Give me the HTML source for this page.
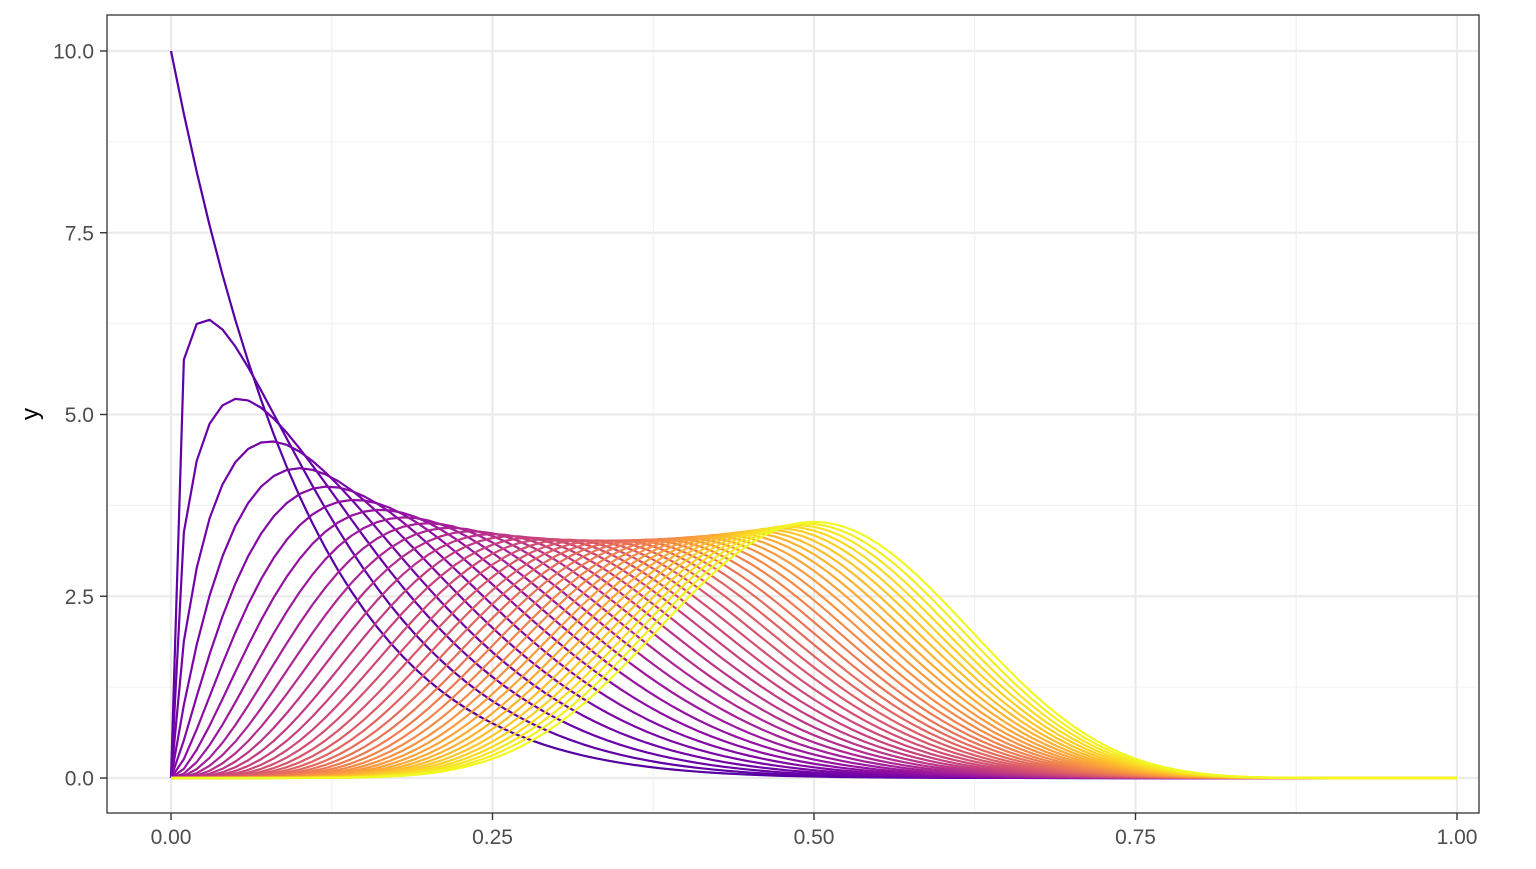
<!DOCTYPE html>
<html><head><meta charset="utf-8"><style>
body{margin:0;background:#fff;}
svg text{font-family:"Liberation Sans",sans-serif;}
</style></head><body>
<svg id="chart" width="1536" height="864" xmlns="http://www.w3.org/2000/svg"></svg>
<script>
const shapeA = [];
for (let i = 0; i <= 36; i++) shapeA.push(1 + i * 0.25);
const shapeB = 10;
const xTicks = [0, 0.25, 0.5, 0.75, 1];
const xTickLabels = ["0.00", "0.25", "0.50", "0.75", "1.00"];
const yTicks = [0, 2.5, 5, 7.5, 10];
const yTickLabels = ["0.0", "2.5", "5.0", "7.5", "10.0"];

const NS = "http://www.w3.org/2000/svg";
const svg = document.getElementById("chart");
const X = v => 171 + v * (1457 - 171);
const Y = v => 778 - v * (778 - 51) / 10;
function mk(tag, attrs, parent) {
  const e = document.createElementNS(NS, tag);
  for (const k in attrs) e.setAttribute(k, attrs[k]);
  (parent || svg).appendChild(e);
  return e;
}
function lgamma(z) {
  const g = 7, c = [0.99999999999980993, 676.5203681218851, -1259.1392167224028, 771.32342877765313,
    -176.61502916214059, 12.507343278686905, -0.13857109526572012, 9.9843695780195716e-6, 1.5056327351493116e-7];
  if (z < 0.5) return Math.log(Math.PI / Math.sin(Math.PI * z)) - lgamma(1 - z);
  z -= 1; let x = c[0];
  for (let i = 1; i < g + 2; i++) x += c[i] / (z + i);
  const t = z + g + 0.5;
  return 0.5 * Math.log(2 * Math.PI) + (z + 0.5) * Math.log(t) - t + Math.log(x);
}
function dbeta(x, a, b) {
  if (x <= 0) return a === 1 ? b : 0;
  if (x >= 1) return 0;
  return Math.exp((a - 1) * Math.log(x) + (b - 1) * Math.log(1 - x) - (lgamma(a) + lgamma(b) - lgamma(a + b)));
}
const stops = ["#0d0887","#41049d","#6a00a8","#8f0da4","#b12a90","#cc4778","#e16462","#f2844b","#fca636","#fcce25","#f0f921"];
function plasma(t) {
  const p = t * 10, i = Math.min(9, Math.floor(p)), f = p - i;
  const h = s => [1,3,5].map(k => parseInt(s.substr(k,2),16));
  const a = h(stops[i]), b = h(stops[i+1]);
  return "rgb(" + a.map((v,k) => Math.round(v + (b[k]-v)*f)).join(",") + ")";
}

const panel = mk("rect", {x:107, y:15, width:1372, height:798, fill:"#fff"});


const grid = mk("g", {});


for (let i = 0; i < xTicks.length - 1; i++) {
  const m = (xTicks[i] + xTicks[i+1]) / 2;
  mk("line", {x1:X(m), x2:X(m), y1:15, y2:813, stroke:"#f0f0f0", "stroke-width":1.1}, grid);
}
for (let i = 0; i < yTicks.length - 1; i++) {
  const m = (yTicks[i] + yTicks[i+1]) / 2;
  mk("line", {x1:107, x2:1479, y1:Y(m), y2:Y(m), stroke:"#f0f0f0", "stroke-width":1.1}, grid);
}
xTicks.forEach(v => mk("line", {x1:X(v), x2:X(v), y1:15, y2:813, stroke:"#ebebeb", "stroke-width":2.2}, grid));
yTicks.forEach(v => mk("line", {x1:107, x2:1479, y1:Y(v), y2:Y(v), stroke:"#ebebeb", "stroke-width":2.2}, grid));

const lines = mk("g", {fill:"none", "stroke-width":2.2, "stroke-linejoin":"round"});


const n = shapeA.length;
shapeA.forEach((a, j) => {
  let d = "";
  for (let i = 0; i <= 100; i++) {
    const x = i / 100;
    d += (i ? "L" : "M") + X(x).toFixed(2) + "," + Y(dbeta(x, a, shapeB)).toFixed(2);
  }
  const p = mk("path", {d: d, stroke: plasma(0.15 + 0.85 * j / (n - 1))}, lines);
  
  
});

const border = mk("rect", {x:107, y:15, width:1372, height:798, fill:"none", stroke:"#333", "stroke-width":1.3});



xTicks.forEach((v, i) => {
  mk("line", {x1:X(v), x2:X(v), y1:813, y2:820, stroke:"#333", "stroke-width":1.4});
  const t = mk("text", {x:X(v), y:844, "font-size":21, fill:"#4d4d4d", "text-anchor":"middle"});
  t.textContent = xTickLabels[i];
  
  
});
yTicks.forEach((v, i) => {
  mk("line", {x1:100, x2:107, y1:Y(v), y2:Y(v), stroke:"#333", "stroke-width":1.4});
  const t = mk("text", {x:94, y:Y(v) + 7.5, "font-size":21, fill:"#4d4d4d", "text-anchor":"end"});
  t.textContent = yTickLabels[i];
  
  
});
const yl = mk("text", {x:38, y:414, "font-size":24, fill:"#000", "text-anchor":"middle", transform:"rotate(-90 38 414)"});
yl.textContent = "y";


</script>
</body></html>
